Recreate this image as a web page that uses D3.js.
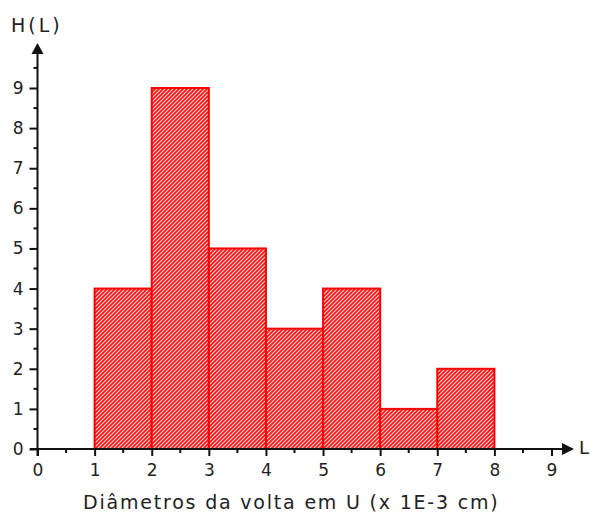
<!DOCTYPE html>
<html><head><meta charset="utf-8">
<script src="https://cdn.jsdelivr.net/npm/d3@7"></script>
<style>body{margin:0;background:#fff}svg{display:block}text{font-family:"DejaVu Sans",Verdana,sans-serif;fill:#222}</style>
</head><body>
<script>
const binStarts = [1,2,3,4,5,6,7];
const binEnds   = [2,3,4,5,6,7,8];
const counts    = [4,9,5,3,4,1,2];
const xTicks = [0,1,2,3,4,5,6,7,8,9];
const yTicks = [0,1,2,3,4,5,6,7,8,9];
const xTitle = "Diâmetros da volta em U (x 1E-3 cm)";
const yTitle = "H(L)";
const xEndLabel = "L";

const W=590,H=515;
const svg=d3.select("body").append("svg").attr("width",W).attr("height",H);
const x=d3.scaleLinear().domain([0,9]).range([37.5,551.5]);
const y=d3.scaleLinear().domain([0,9]).range([449,88]);

const defs=svg.append("defs");
const pat=defs.append("pattern").attr("id","hatch").attr("patternUnits","userSpaceOnUse")
  .attr("width",4).attr("height",4);
pat.append("rect").attr("width",4).attr("height",4).attr("fill","#ffd9d9");
pat.append("path").attr("d","M-1,1 l2,-2 M0,4 l4,-4 M3,5 l2,-2").attr("stroke","#ff1010").attr("stroke-width",1.7);

// bars
svg.append("g").selectAll("rect").data(counts).join("rect")
  .attr("x",(d,i)=>x(binStarts[i])).attr("width",(d,i)=>x(binEnds[i])-x(binStarts[i]))
  .attr("y",d=>y(d)).attr("height",d=>y(0)-y(d))
  .attr("fill","url(#hatch)").attr("stroke","#ff0000").attr("stroke-width",2);

const fam="DejaVu Sans, Verdana, sans-serif";
// x axis
const xa=svg.append("g").attr("transform",`translate(0,${y(0)})`);
xa.call(d3.axisBottom(x).tickValues(xTicks).tickSize(7).tickPadding(8).tickFormat(d3.format("d")));
xa.select(".domain").remove();
xa.selectAll(".tick line").attr("stroke","#111").attr("stroke-width",2);
xa.selectAll(".tick text").attr("font-size",17).attr("font-family",fam).attr("fill","#222");
const xMinor=d3.range(0.5,9.5,1);
xa.selectAll(".minor").data(xMinor).join("line").attr("class","minor")
  .attr("x1",d=>x(d)).attr("x2",d=>x(d)).attr("y1",0).attr("y2",4).attr("stroke","#111").attr("stroke-width",2);
xa.append("line").attr("x1",30).attr("x2",565).attr("y1",0).attr("y2",0).attr("stroke","#111").attr("stroke-width",2);
xa.append("path").attr("d","M562,-6 L574,0 L562,6 Z").attr("fill","#111");
svg.append("text").attr("x",579).attr("y",y(0)+5).attr("font-size",18).text(xEndLabel);

// y axis
const ya=svg.append("g").attr("transform",`translate(${x(0)},0)`);
ya.call(d3.axisLeft(y).tickValues(yTicks).tickSize(8).tickPadding(6).tickFormat(d3.format("d")));
ya.select(".domain").remove();
ya.selectAll(".tick line").attr("stroke","#111").attr("stroke-width",2);
ya.selectAll(".tick text").attr("font-size",17).attr("font-family",fam).attr("fill","#222");
const yMinor=d3.range(0.5,10,1);
ya.selectAll(".minor").data(yMinor).join("line").attr("class","minor")
  .attr("x1",-4).attr("x2",0).attr("y1",d=>y(d)).attr("y2",d=>y(d)).attr("stroke","#111").attr("stroke-width",2);
ya.append("line").attr("x1",0).attr("x2",0).attr("y1",y(0)+7).attr("y2",50).attr("stroke","#111").attr("stroke-width",2);
ya.append("path").attr("d","M-6,54 L0,43 L6,54 Z").attr("fill","#111");

svg.append("text").attr("x",11).attr("y",32).attr("font-size",19).attr("letter-spacing",3).text(yTitle);
svg.append("text").attr("x",83).attr("y",509).attr("font-size",19).attr("letter-spacing",1.8).text(xTitle);
</script>
</body></html>
